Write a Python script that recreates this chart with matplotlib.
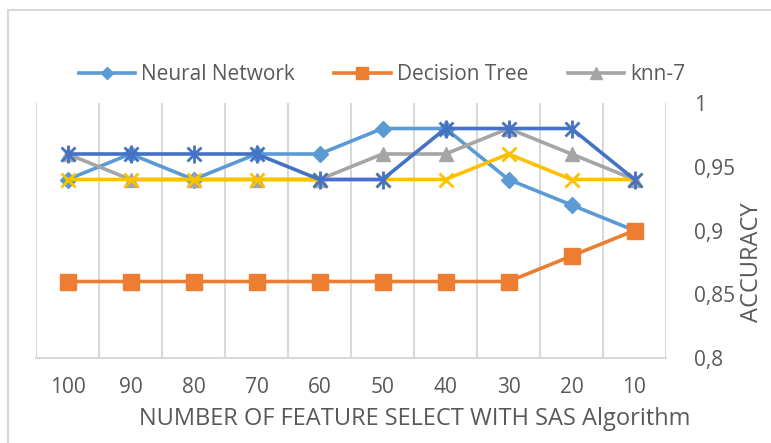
import matplotlib.pyplot as plt
from matplotlib.patches import Rectangle

plt.rcParams.update({'font.family': ['Open Sans', 'DejaVu Sans']})

features = ['100', '90', '80', '70', '60', '50', '40', '30', '20', '10']
neural_net = [0.94, 0.96, 0.94, 0.96, 0.96, 0.98, 0.98, 0.94, 0.92, 0.90]
dec_tree   = [0.86, 0.86, 0.86, 0.86, 0.86, 0.86, 0.86, 0.86, 0.88, 0.90]
knn7       = [0.96, 0.94, 0.94, 0.94, 0.94, 0.96, 0.96, 0.98, 0.96, 0.94]
series4    = [0.94, 0.94, 0.94, 0.94, 0.94, 0.94, 0.94, 0.96, 0.94, 0.94]
series5    = [0.96, 0.96, 0.96, 0.96, 0.94, 0.94, 0.98, 0.98, 0.98, 0.94]
yticks = [0.8, 0.85, 0.9, 0.95, 1.0]
ytick_labels = ['0,8', '0,85', '0,9', '0,95', '1']

W, H = 771, 443
fig = plt.figure(figsize=(W/100, H/100), dpi=100)
ax = fig.add_axes([36/W, 1-358/H, 630/W, 255/H])

x = list(range(len(features)))
lw = 2.6
ax.plot(x, neural_net, color='#5B9BD5', lw=lw, marker='D', ms=8, label='Neural Network', zorder=3)
ax.plot(x, dec_tree, color='#ED7D31', lw=lw, marker='s', ms=11, label='Decision Tree', zorder=3)
ax.plot(x, knn7, color='#A5A5A5', lw=lw, marker='^', ms=10, label='knn-7', zorder=3)
ax.plot(x, series4, color='#FFC000', lw=lw, marker='x', ms=10, mew=2, zorder=4)
ax.plot(x, series5, color='#4472C4', lw=lw, marker='x', ms=10, mew=2, zorder=5)
ax.plot(x, series5, color='#4472C4', ls='none', marker='|', ms=13, mew=2, zorder=5)

ax.set_xlim(-0.5, len(features)-0.5)
ax.set_ylim(0.8, 1.0)
ax.set_xticks(x)
ax.set_xticklabels(features, fontsize=15, color='#595959')
ax.set_xticks([i-0.5 for i in range(len(features)+1)], minor=True)
ax.grid(True, which='minor', axis='x', color='#D9D9D9', lw=1.5)
ax.tick_params(axis='x', which='both', length=0, pad=14)
ax.yaxis.tick_right()
ax.set_yticks(yticks)
ax.set_yticklabels(ytick_labels, fontsize=15, color='#595959')
ax.tick_params(axis='y', length=0, pad=20)
for s in ['top', 'left', 'right']:
    ax.spines[s].set_visible(False)
ax.spines['bottom'].set_color('#D9D9D9')
ax.spines['bottom'].set_linewidth(1.5)

fig.text(752/W, 1-262/H, 'ACCURACY', rotation=90, ha='center', va='center',
         fontsize=17, color='#595959')
fig.text(415/W, 1-419/H, 'NUMBER OF FEATURE SELECT WITH SAS Algorithm',
         ha='center', va='center', fontsize=17, color='#595959')

fig.legend(loc='center', bbox_to_anchor=(382/W, 1-75/H), ncol=3, frameon=False,
           fontsize=15, handlelength=2.7, columnspacing=1.9, handletextpad=0.3,
           labelcolor='#595959', markerscale=0.8)

fig.patches.append(Rectangle((8/W, -0.1), 1.2, 1.1-10/H, transform=fig.transFigure,
                             fill=False, edgecolor='#D9D9D9', lw=1.5))

fig.savefig('out.png', dpi=100)
